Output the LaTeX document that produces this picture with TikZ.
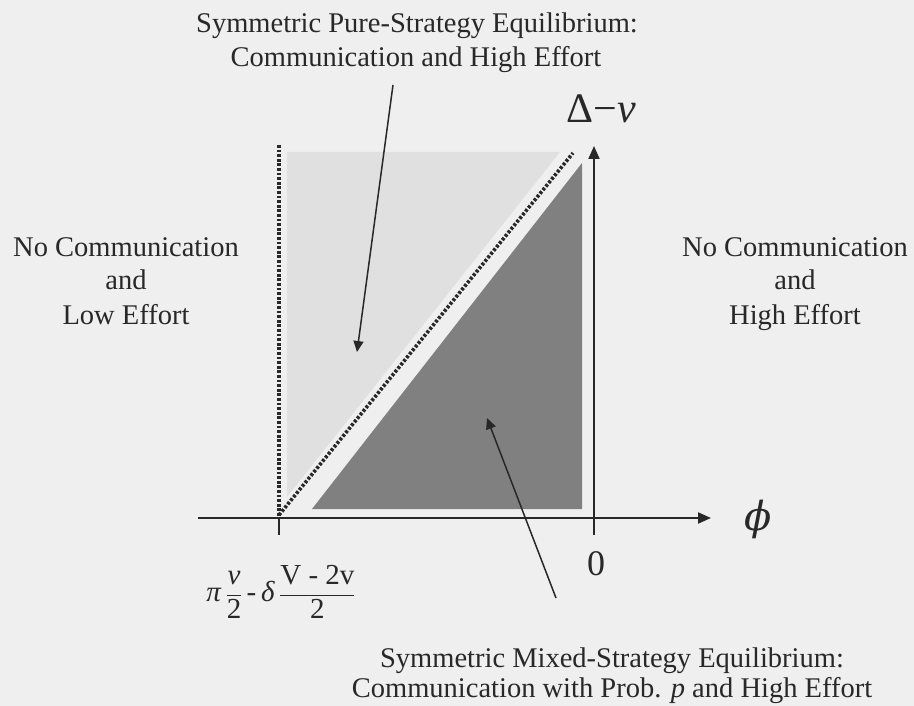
\documentclass[tikz,border=0pt]{standalone}
\usepackage{fontspec}
\setmainfont{Liberation Serif}
\newfontfamily\dvserif{DejaVu Serif}
\usetikzlibrary{arrows.meta}
\definecolor{bgc}{RGB}{239,239,239}
\definecolor{lightreg}{RGB}{224,224,224}
\definecolor{darkreg}{RGB}{128,128,128}
\definecolor{ink}{RGB}{40,40,40}
\begin{document}
\begin{tikzpicture}[x=1pt,y=-1pt,
  lbl/.style={inner sep=0pt,anchor=base,text=ink,font=\fontsize{28.5}{34}\selectfont},
  axis/.style={draw=ink,line width=2pt,-{Triangle[length=13pt,width=11pt]}},
  pointer/.style={draw=ink,line width=1.5pt,-{Triangle[length=11pt,width=10pt]}},
  dots/.style={draw=ink,line width=3.6pt,dash pattern=on 2.8pt off 1.8pt}]
\fill[bgc] (0,0) rectangle (914,706);
\useasboundingbox (0,0) rectangle (914,706);
% regions
\fill[lightreg] (287,152) -- (560,152) -- (287,497) -- cycle;
\fill[darkreg] (312,509) -- (582,509) -- (582,163) -- cycle;
% dotted boundaries
\coordinate (dtop) at (279,145);
\coordinate (origin) at (279,518);
\coordinate (dstart) at (279,515);
\coordinate (dend) at (573,153);
\draw[dots] (dtop) -- (origin);
\draw[dots] (dstart) -- (dend);
% axes
\coordinate (xs) at (198,518);
\coordinate (xe) at (711,518);
\coordinate (ys) at (594,535);
\coordinate (ye) at (594,146);
\coordinate (tickb) at (279,535);
\draw[axis] (xs) -- (xe);
\draw[axis] (ys) -- (ye);
\draw[draw=ink,line width=2pt] (origin) -- (tickb);
% labels
\node[lbl] (t1) at (417,33) {Symmetric Pure-Strategy Equilibrium:};
\node[lbl] (t2) at (416,67) {Communication and High Effort};
\node[lbl] (l1) at (126,256) {No Communication};
\node[lbl] (l2) at (126,290) {and};
\node[lbl] (l3) at (126,324) {Low Effort};
\node[lbl] (r1) at (795,256) {No Communication};
\node[lbl] (r2) at (795,290) {and};
\node[lbl] (r3) at (795,324) {High Effort};
\node[lbl] (b1) at (612,667) {Symmetric Mixed-Strategy Equilibrium:};
\node[lbl] (b2) at (612,697) {Communication with Prob. \textit{p} and High Effort};
\node[lbl,font=\fontsize{42}{48}\selectfont] (ylab) at (601,123) {Δ−\textit{ν}};
\node[inner sep=0pt,text=ink,font=\fontsize{40}{48}\selectfont\dvserif\itshape] (xlab) at (758,519) {ϕ};
\node[lbl,font=\fontsize{36}{40}\selectfont] (zero) at (596,575) {0};
\node[inner sep=0pt,text=ink,font=\fontsize{29}{34}\selectfont] (thr) at (281,592)
  {$\displaystyle \mbox{\textit{π}}\,\frac{\mbox{\textit{ν}}}{\mbox{2}}\,\mbox{-\,\textit{δ}}\,\frac{\mbox{V - 2v}}{\mbox{2}}$};
% pointers
\coordinate (pa) at (393,85);
\coordinate (pb) at (357,352);
\coordinate (qa) at (556,598);
\coordinate (qb) at (487,418);
\draw[pointer] (pa) -- (pb);
\draw[pointer] (qa) -- (qb);
\end{tikzpicture}
\end{document}
